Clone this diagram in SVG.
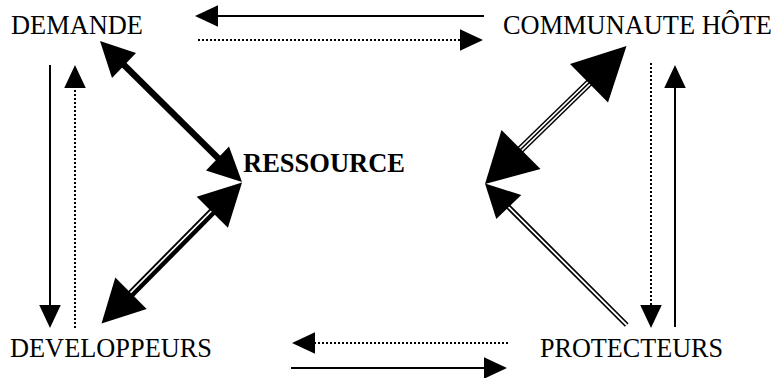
<svg xmlns="http://www.w3.org/2000/svg" width="775" height="378" viewBox="0 0 775 378">
<style>
.lbl{font-family:"Liberation Serif","Times New Roman",serif;font-size:28px;fill:#000}
.bold{font-weight:bold;font-size:27px}
.solid{stroke:#000;stroke-width:2;fill:none}
.dot{stroke:#000;stroke-width:2;fill:none;stroke-dasharray:2 2}
.head{fill:#000;stroke:none}
</style>
<defs>
<marker id="ah" markerUnits="userSpaceOnUse" markerWidth="23" markerHeight="22" refX="0" refY="10.75" orient="auto">
<path d="M0,0 L23,10.75 L0,21.5 z" fill="#000"/>
</marker>
</defs>
<rect width="775" height="378" fill="#fff"/>
<g id="connectors">
<line class="solid" x1="484" y1="16" x2="218" y2="16" marker-end="url(#ah)"/>
<line class="dot" x1="198" y1="40" x2="460" y2="40" marker-end="url(#ah)"/>
<line class="solid" x1="50" y1="65" x2="50" y2="305" marker-end="url(#ah)"/>
<line class="dot" x1="75" y1="328" x2="75" y2="88" marker-end="url(#ah)"/>
<line class="dot" x1="651" y1="63" x2="651" y2="305" marker-end="url(#ah)"/>
<line class="solid" x1="675" y1="327" x2="675" y2="88" marker-end="url(#ah)"/>
<line class="dot" x1="508" y1="343" x2="315" y2="343" marker-end="url(#ah)"/>
<line class="solid" x1="291" y1="368" x2="484" y2="368" marker-end="url(#ah)"/>
<g id="demande-ressource">
<line x1="122" y1="63" x2="220" y2="160" stroke="#000" stroke-width="6.5"/>
<polygon class="head" points="100,41 136,53 112,78"/>
<polygon class="head" points="242,182 229,146.5 206,170.5"/>
</g>
<g id="developpeurs-ressource">
<line x1="128" y1="297" x2="215" y2="209" stroke="#000" stroke-width="8"/>
<line x1="127.1" y1="296.1" x2="214.1" y2="208.1" stroke="#fff" stroke-width="1.6"/>
<polygon class="head" points="242,182.5 227.9,227.8 196.7,196.8"/>
<polygon class="head" points="101.5,323.5 146.7,309 115.3,277.6"/>
</g>
<g id="communaute-ressource">
<line x1="518" y1="152" x2="592" y2="80" stroke="#000" stroke-width="7.6"/>
<line x1="516.9" y1="150.9" x2="590.9" y2="78.9" stroke="#fff" stroke-width="1.5"/>
<line x1="519.1" y1="153.1" x2="593.1" y2="81.1" stroke="#fff" stroke-width="1.5"/>
<polygon class="head" points="626.5,46 608,102.5 570,64"/>
<polygon class="head" points="485,184 540.5,169 501.5,130"/>
</g>
<g id="protecteurs-ressource">
<line x1="505" y1="203.5" x2="626.7" y2="325" stroke="#000" stroke-width="5.2"/>
<line x1="505" y1="203.5" x2="626.7" y2="325" stroke="#fff" stroke-width="1.8"/>
<polygon class="head" points="485,183.5 521.3,195 496.3,219"/>
</g>
</g>
<g id="demande"><text class="lbl" x="11" y="34" textLength="132" lengthAdjust="spacingAndGlyphs">DEMANDE</text></g>
<g id="communaute"><text class="lbl" x="503" y="34" style="font-size:26.4px" textLength="269" lengthAdjust="spacingAndGlyphs">COMMUNAUTE HÔTE</text></g>
<g id="ressource"><text class="lbl bold" x="243" y="172" textLength="162" lengthAdjust="spacingAndGlyphs">RESSOURCE</text></g>
<g id="developpeurs"><text class="lbl" x="10" y="357" textLength="202" lengthAdjust="spacingAndGlyphs">DEVELOPPEURS</text></g>
<g id="protecteurs"><text class="lbl" x="540" y="357" textLength="183" lengthAdjust="spacingAndGlyphs">PROTECTEURS</text></g>
</svg>
